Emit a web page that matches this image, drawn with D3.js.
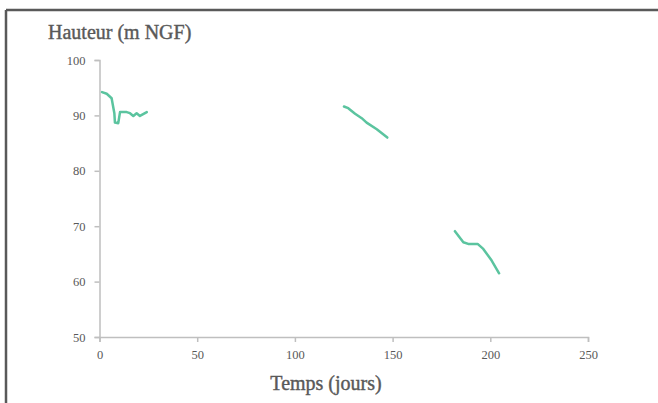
<!DOCTYPE html>
<html><head><meta charset="utf-8">
<script src="https://cdn.jsdelivr.net/npm/d3@7"></script>
<style>body{margin:0;background:#fff}svg{display:block}</style>
</head><body><svg id="c" width="658" height="403"></svg>
<script>
const xTicks = [0, 50, 100, 150, 200, 250];
const yTicks = [50, 60, 70, 80, 90, 100];
const days1 = [1.3, 3.7, 6.2, 7.6, 7.9, 9.6, 10.5, 13.9, 15.6, 17.3, 19, 20.7, 24.2];
const height1 = [94.2, 93.9, 93.1, 90.4, 88.7, 88.6, 90.6, 90.6, 90.4, 89.9, 90.4, 89.9, 90.6];
const days2 = [125.1, 127.3, 130.8, 134.2, 136.7, 141.9, 147.3];
const height2 = [91.6, 91.3, 90.3, 89.5, 88.7, 87.5, 86.0];
const days3 = [181.9, 186.2, 188.7, 193.5, 196.4, 200.7, 204.5];
const height3 = [69.1, 67.1, 66.8, 66.8, 65.9, 63.8, 61.5];
const yTitle = "Hauteur (m NGF)";
const xTitle = "Temps (jours)";

const svg = d3.select("#c");
const font = "'Liberation Serif', 'DejaVu Serif', serif";
const grey = "#595959", axisCol = "#bfbfbf", lineCol = "#5bc49f";

// frame
svg.append("line").attr("x1",6).attr("x2",658).attr("y1",10).attr("y2",10).attr("stroke","#595959").attr("stroke-width",2.5);
svg.append("line").attr("x1",6).attr("x2",6).attr("y1",10).attr("y2",403).attr("stroke","#595959").attr("stroke-width",2.5);

const x = d3.scaleLinear().domain([0,250]).range([99.5,588]);
const y = d3.scaleLinear().domain([50,100]).range([337,60]);

const xa = svg.append("g").attr("transform","translate(0,337)")
  .call(d3.axisBottom(x).tickValues(xTicks).tickSize(5).tickPadding(8));
const ya = svg.append("g").attr("transform","translate(99.5,0)")
  .call(d3.axisLeft(y).tickValues(yTicks).tickSize(5).tickPadding(9));
[xa, ya].forEach(g => {
  g.selectAll("path, line").attr("stroke", axisCol).attr("stroke-width", 1.5);
  g.selectAll("text").attr("fill", grey).attr("font-family", font).attr("font-size", 12.5);
});

const line = d3.line().x(d => x(d[0])).y(d => y(d[1]));
[[days1,height1],[days2,height2],[days3,height3]].forEach(([ds,hs]) => {
  svg.append("path").datum(ds.map((d,i)=>[d,hs[i]]))
    .attr("d", line).attr("fill","none").attr("stroke",lineCol)
    .attr("stroke-width",2.5).attr("stroke-linejoin","round").attr("stroke-linecap","round");
});

svg.append("text").attr("x",48).attr("y",39).text(yTitle)
  .attr("font-family",font).attr("font-size",20).attr("fill",grey)
  .attr("stroke",grey).attr("stroke-width",0.4);
svg.append("text").attr("x",326).attr("y",390).attr("text-anchor","middle").text(xTitle)
  .attr("font-family",font).attr("font-size",20).attr("fill",grey)
  .attr("stroke",grey).attr("stroke-width",0.4);
</script></body></html>
